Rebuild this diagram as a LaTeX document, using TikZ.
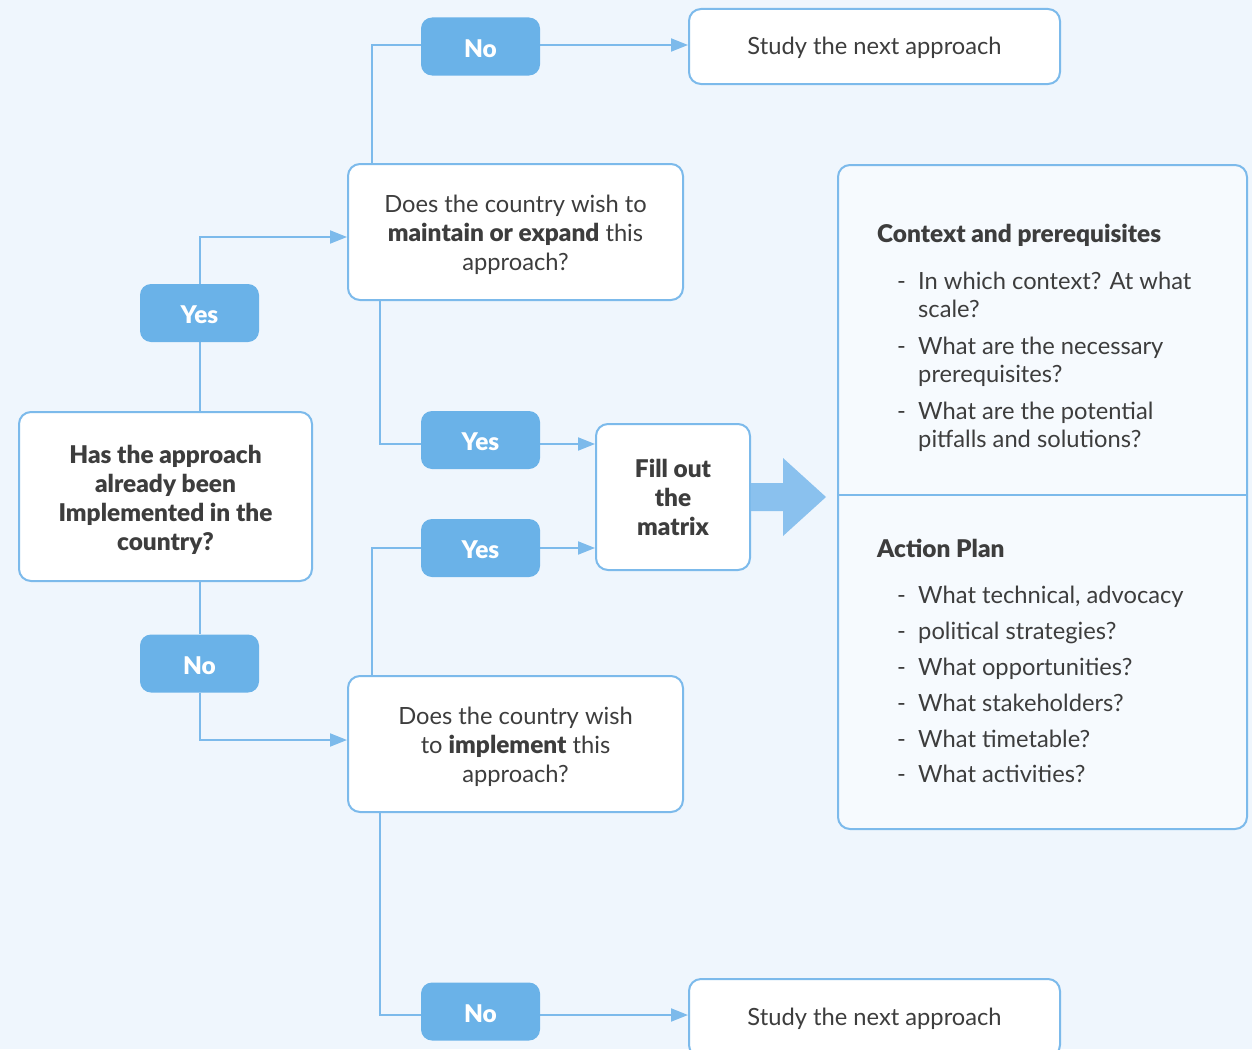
\documentclass[tikz,border=0pt]{standalone}
\usepackage{fontspec}
\IfFontExistsTF{Lato Black}{\setmainfont{Lato}[BoldFont={Lato Black}]}{\setmainfont{Lato}}
\usetikzlibrary{arrows.meta,calc}
\definecolor{bgc}{HTML}{EFF6FD}
\definecolor{linec}{HTML}{7CBAEB}
\definecolor{pillc}{HTML}{6AB2E8}
\definecolor{txtc}{HTML}{3D3D3D}
\definecolor{bigc}{HTML}{F6FAFE}
\definecolor{arrc}{HTML}{8AC1EE}
\pgfdeclarelayer{back}
\pgfdeclarelayer{bg}
\pgfsetlayers{back,bg,main}
\newcommand{\bfsz}{\fontsize{24.4}{29}\selectfont\bfseries}
\tikzset{
  box/.style={draw=linec, line width=2pt, rounded corners=12pt, fill=white, inner sep=0pt},
  boxtxt/.style={text=txtc, align=center, font=\fontsize{23.7}{29}\selectfont, inner sep=0pt},
  onetxt/.style={boxtxt, text height=21.5pt, text depth=4.5pt},
  pill/.style={fill=pillc, rounded corners=11pt, text=white, minimum width=119pt,
    minimum height=58pt, inner sep=0pt, font=\bfsz, text height=21pt, text depth=0pt},
  conn/.style={draw=linec, line width=2pt},
  arr/.style={conn, -{Triangle[length=17pt,width=13pt]}},
  lst/.style={text=txtc, inner sep=0pt, anchor=base west, font=\fontsize{23.7}{29}\selectfont},
  hd/.style={lst, font=\bfsz}
}
\begin{document}
\begin{tikzpicture}[x=1pt,y=-1pt]
\begin{pgfonlayer}{back}
\fill[bgc] (0,0) rectangle (1252,1049);
\end{pgfonlayer}
\useasboundingbox (0,0) rectangle (1252,1049);

% boxes
\node[box, minimum width=293pt, minimum height=169pt] (main) at (165.5,496.5) {};
\node[boxtxt, font=\bfsz] (maintxt) at ($(main.center)+(0,3)$)
  {Has the approach\\already been\\Implemented in the\\country?};
\node[box, minimum width=335pt, minimum height=136pt] (maintain) at (515.5,232) {};
\node[boxtxt] (maintaintxt) at ($(maintain.center)+(0,3)$)
  {Does the country wish to\\{\bfsz maintain or expand} this\\approach?};
\node[box, minimum width=335pt, minimum height=136pt] (implement) at (515.5,744) {};
\node[boxtxt] (implementtxt) at ($(implement.center)+(0,3)$)
  {Does the country wish\\to {\bfsz implement} this\\approach?};
\node[box, minimum width=154pt, minimum height=146pt] (fill) at (673,497) {};
\node[boxtxt, font=\bfsz] (filltxt) at (fill.center) {Fill out\\the\\matrix};
\node[box, minimum width=371pt, minimum height=75pt] (study1) at (874.5,46.5) {};
\node[onetxt] (study1txt) at (study1.center) {Study the next approach};
\node[box, minimum width=371pt, minimum height=78pt] (study2) at (874.5,1018) {};
\node[onetxt] (study2txt) at ($(study2.center)+(0,-1)$) {Study the next approach};

% pills
\node[pill] (no1) at (480.5,46.5) {No};
\node[pill] (yes1) at (199.5,313) {Yes};
\node[pill] (no2) at (199.5,663.5) {No};
\node[pill] (yes2) at (480.5,440) {Yes};
\node[pill] (yes3) at (480.5,548) {Yes};
\node[pill] (no3) at (480.5,1011.5) {No};

% connectors
\begin{pgfonlayer}{bg}
\draw[conn] ($(maintain.north west)+(25,0)$) |- ($(no1.west)+(0,-1.5)$);
\draw[arr] ($(no1.east)+(0,-1.5)$) -- (study1.west |- 0,45);
\draw[conn] (yes1.center |- main.north) -- (yes1.south);
\draw[arr] (yes1.north) |- ($(maintain.west)+(0,5)$);
\draw[conn] (no2.center |- main.south) -- (no2.north);
\draw[arr] (no2.south) |- ($(implement.west)+(0,-4)$);
\draw[conn] ($(maintain.south west)+(33,0)$) |- ($(yes2.west)+(0,4)$);
\draw[arr] ($(yes2.east)+(0,4)$) -- (fill.west |- 0,444);
\draw[conn] ($(implement.north west)+(25,0)$) |- (yes3.west);
\draw[arr] (yes3.east) -- (fill.west |- yes3.east);
\draw[conn] ($(implement.south west)+(33,0)$) |- ($(no3.west)+(0,3.5)$);
\draw[arr] ($(no3.east)+(0,3.5)$) -- (study2.west |- 0,1015);
\end{pgfonlayer}

% big arrow
\fill[arrc] (fill.east |- 0,483) -- (783,483) -- (783,458) -- (826,497) -- (783,536) -- (783,511) -- (fill.east |- 0,511) -- cycle;

% right panel
\node[draw=linec, line width=2pt, rounded corners=12pt, fill=bigc, minimum width=409pt,
  minimum height=664pt, inner sep=0pt] (panel) at (1042.5,497) {};
\draw[draw=linec, line width=1.3pt] (panel.west |- 0,495) -- (panel.east |- 0,495);

\node[hd] (h1) at (877,242) {Context and prerequisites};
\node[lst] (d1) at (897,289) {-};
\node[lst] (t1a) at (918,289) {In which context? At what};
\node[lst] (t1b) at (918,317) {scale?};
\node[lst] (d2) at (897,354) {-};
\node[lst] (t2a) at (918,354) {What are the necessary};
\node[lst] (t2b) at (918,382) {prerequisites?};
\node[lst] (d3) at (897,419) {-};
\node[lst] (t3a) at (918,419) {What are the potential};
\node[lst] (t3b) at (918,447) {pitfalls and solutions?};

\node[hd] (h2) at (877,557) {Action Plan};
\node[lst] (d4) at (897,603) {-};
\node[lst] (t4) at (918,603) {What technical, advocacy};
\node[lst] (d5) at (897,639) {-};
\node[lst] (t5) at (918,639) {political strategies?};
\node[lst] (d6) at (897,675) {-};
\node[lst] (t6) at (918,675) {What opportunities?};
\node[lst] (d7) at (897,711) {-};
\node[lst] (t7) at (918,711) {What stakeholders?};
\node[lst] (d8) at (897,747) {-};
\node[lst] (t8) at (918,747) {What timetable?};
\node[lst] (d9) at (897,782) {-};
\node[lst] (t9) at (918,782) {What activities?};
\end{tikzpicture}
\end{document}
